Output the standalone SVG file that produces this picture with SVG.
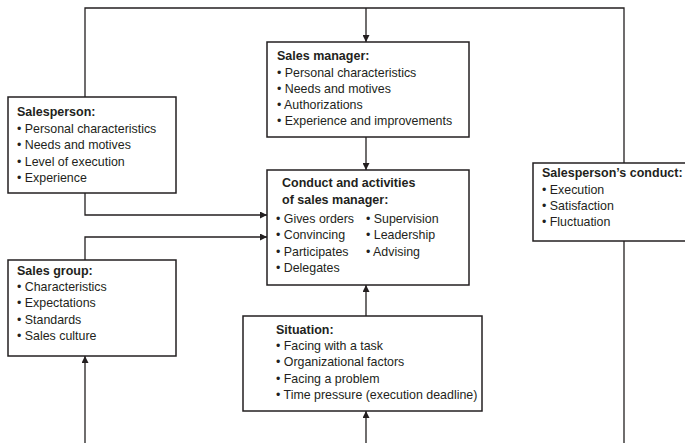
<svg xmlns="http://www.w3.org/2000/svg" width="685" height="443" viewBox="0 0 685 443">
<style>
.box{fill:#fff;stroke:#231f20;stroke-width:1.5}
.ln{fill:none;stroke:#231f20;stroke-width:1.3}
text{font-family:"Liberation Sans",Arial,sans-serif;font-size:12.4px;fill:#231f20}
.h{font-weight:bold;font-size:12.5px}
</style>
<defs>
<marker id="ar" viewBox="0 0 10 10" refX="10" refY="5" markerWidth="7" markerHeight="7" markerUnits="userSpaceOnUse" orient="auto">
<path d="M0,0 L10,5 L0,10 z" fill="#231f20"/>
</marker>
</defs>
<rect width="685" height="443" fill="#fff"/>
<g id="connectors">
<path class="ln" d="M85,97 V8 H624 V163" marker-start="url(#ar)"/>
<path class="ln" d="M366,8 V42" marker-end="url(#ar)"/>
<path class="ln" d="M366,137 V170" marker-end="url(#ar)"/>
<path class="ln" d="M85,193 V215 H267" marker-end="url(#ar)"/>
<path class="ln" d="M85,260 V237 H267" marker-end="url(#ar)"/>
<path class="ln" d="M366,316 V285" marker-end="url(#ar)"/>
<path class="ln" d="M624,241 V443"/>
<path class="ln" d="M85,443 V356" marker-end="url(#ar)"/>
<path class="ln" d="M366,443 V411" marker-end="url(#ar)"/>
</g>
<g id="salesperson">
<rect class="box" x="8" y="97" width="168" height="96"/>
<text x="17" y="116" class="h">Salesperson:</text>
<text x="17" y="133">• Personal characteristics</text>
<text x="17" y="149">• Needs and motives</text>
<text x="17" y="165.5">• Level of execution</text>
<text x="17" y="182">• Experience</text>
</g>
<g id="sales-manager">
<rect class="box" x="267" y="42" width="202" height="95"/>
<text x="277" y="60" class="h">Sales manager:</text>
<text x="277" y="76.5">• Personal characteristics</text>
<text x="277" y="92.8">• Needs and motives</text>
<text x="277" y="109">• Authorizations</text>
<text x="277" y="125.4">• Experience and improvements</text>
</g>
<g id="conduct">
<rect class="box" x="267" y="170" width="202" height="115"/>
<text x="282" y="187" class="h">Conduct and activities</text>
<text x="282" y="204" class="h">of sales manager:</text>
<text x="276" y="223">• Gives orders</text>
<text x="366" y="223">• Supervision</text>
<text x="276" y="239.3">• Convincing</text>
<text x="366" y="239.3">• Leadership</text>
<text x="276" y="255.6">• Participates</text>
<text x="366" y="255.6">• Advising</text>
<text x="276" y="272">• Delegates</text>
</g>
<g id="salesperson-conduct">
<rect class="box" x="533" y="163" width="160" height="78"/>
<text x="542" y="177" class="h">Salesperson’s conduct:</text>
<text x="542" y="193.5">• Execution</text>
<text x="542" y="210">• Satisfaction</text>
<text x="542" y="226">• Fluctuation</text>
</g>
<g id="sales-group">
<rect class="box" x="8" y="260" width="168" height="96"/>
<text x="17" y="274.5" class="h">Sales group:</text>
<text x="17" y="291">• Characteristics</text>
<text x="17" y="307.3">• Expectations</text>
<text x="17" y="323.6">• Standards</text>
<text x="17" y="340">• Sales culture</text>
</g>
<g id="situation">
<rect class="box" x="243" y="316" width="239" height="95"/>
<text x="276" y="333.5" class="h">Situation:</text>
<text x="276" y="350">• Facing with a task</text>
<text x="276" y="366.3">• Organizational factors</text>
<text x="276" y="382.6">• Facing a problem</text>
<text x="276" y="399">• Time pressure (execution deadline)</text>
</g>
</svg>
